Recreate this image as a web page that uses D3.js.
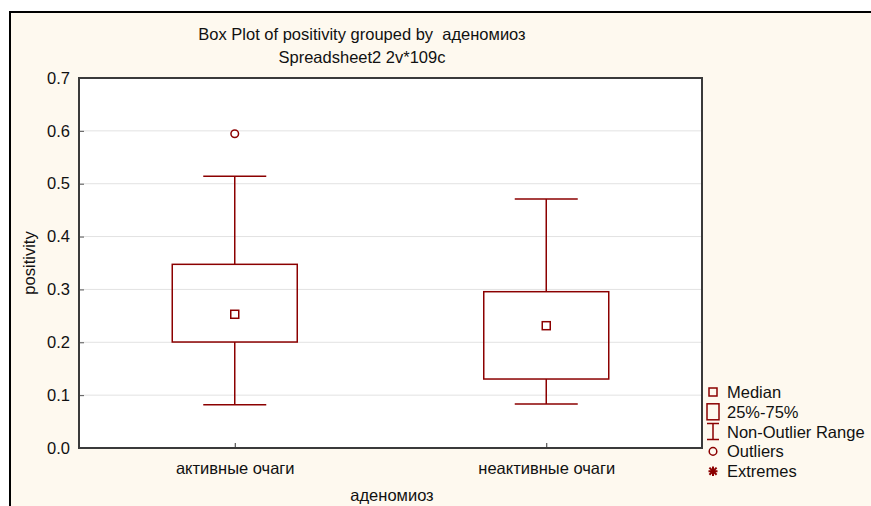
<!DOCTYPE html>
<html>
<head>
<meta charset="utf-8">
<script src="https://cdn.jsdelivr.net/npm/d3@7"></script>
<style>
  body { margin: 0; background: #fff; }
  text { font-family: "Liberation Sans", Arial, sans-serif; fill: #111; white-space: pre; }
</style>
</head>
<body>
<div class="item"></div>
<script>
var width = 871;
var height = 506;

// данные
var categories = ["активные очаги", "неактивные очаги"];
var q1 = [0.2005, 0.1305];
var median = [0.253, 0.2314];
var q3 = [0.3475, 0.2957];
var whiskerLow = [0.082, 0.0832];
var whiskerHigh = [0.514, 0.471];
var outliers = [[0.5946], []];
var yTicks = [0.0, 0.1, 0.2, 0.3, 0.4, 0.5, 0.6, 0.7];
var legendItems = ["Median", "25%-75%", "Non-Outlier Range", "Outliers", "Extremes"];

var boxes = categories.map(function (c, i) {
    return { cat: c, q1: q1[i], med: median[i], q3: q3[i], lo: whiskerLow[i], hi: whiskerHigh[i], out: outliers[i] };
});

var red = "#8b0000";
var fs = "16.5px";
var plot = { left: 79, top: 78, right: 702, bottom: 448 };

var svg = d3.select(".item")
    .append("svg")
    .attr("width", width)
    .attr("height", height);

// фон с рамкой
svg.append("rect")
    .attr("x", 10).attr("y", 12)
    .attr("width", width + 10).attr("height", height + 10)
    .attr("fill", "#fef9ef")
    .attr("stroke", "#000")
    .attr("stroke-width", 2);

var x = d3.scalePoint()
    .domain(categories)
    .range([plot.left, plot.right])
    .padding(0.5);

var y = d3.scaleLinear()
    .domain([0, 0.7])
    .range([plot.bottom, plot.top]);

// область графика
svg.append("rect")
    .attr("x", plot.left).attr("y", plot.top)
    .attr("width", plot.right - plot.left)
    .attr("height", plot.bottom - plot.top)
    .attr("fill", "#fff");

// сетка
svg.selectAll(".grid")
    .data(yTicks.slice(1, -1))
    .enter().append("line")
    .attr("x1", plot.left).attr("x2", plot.right)
    .attr("y1", function (d) { return y(d); })
    .attr("y2", function (d) { return y(d); })
    .attr("stroke", "#e2e2e2")
    .attr("stroke-width", 1);

// оси
var yAxis = d3.axisLeft(y)
    .tickValues(yTicks)
    .tickFormat(d3.format(".1f"))
    .tickSize(-5)
    .tickPadding(9);

svg.append("g")
    .attr("transform", "translate(" + plot.left + ",0)")
    .call(yAxis)
    .call(function (g) {
        g.select(".domain").remove();
        g.selectAll("line").attr("stroke", "#555");
        g.selectAll("text")
            .style("font-size", fs)
            .style("font-family", "Liberation Sans, Arial, sans-serif")
            .attr("fill", "#111");
    });

var xAxis = d3.axisBottom(x)
    .tickSize(-5)
    .tickPadding(14);

svg.append("g")
    .attr("transform", "translate(0," + plot.bottom + ")")
    .call(xAxis)
    .call(function (g) {
        g.select(".domain").remove();
        g.selectAll("line").attr("stroke", "#333");
        g.selectAll("text")
            .style("font-size", fs)
            .style("font-family", "Liberation Sans, Arial, sans-serif")
            .attr("fill", "#111");
    });

// рамка графика
svg.append("rect")
    .attr("x", plot.left).attr("y", plot.top)
    .attr("width", plot.right - plot.left)
    .attr("height", plot.bottom - plot.top)
    .attr("fill", "none")
    .attr("stroke", "#3a3a3a")
    .attr("stroke-width", 2);

// ящики
var boxW = 125, capW = 63;
var g = svg.selectAll(".box")
    .data(boxes)
    .enter().append("g")
    .attr("transform", function (d) { return "translate(" + x(d.cat) + ",0)"; });

g.append("line")
    .attr("x1", 0).attr("x2", 0)
    .attr("y1", function (d) { return y(d.hi); })
    .attr("y2", function (d) { return y(d.q3); })
    .attr("stroke", red).attr("stroke-width", 1.5);
g.append("line")
    .attr("x1", 0).attr("x2", 0)
    .attr("y1", function (d) { return y(d.q1); })
    .attr("y2", function (d) { return y(d.lo); })
    .attr("stroke", red).attr("stroke-width", 1.5);
g.append("line")
    .attr("x1", -capW / 2).attr("x2", capW / 2)
    .attr("y1", function (d) { return y(d.hi); })
    .attr("y2", function (d) { return y(d.hi); })
    .attr("stroke", red).attr("stroke-width", 1.5);
g.append("line")
    .attr("x1", -capW / 2).attr("x2", capW / 2)
    .attr("y1", function (d) { return y(d.lo); })
    .attr("y2", function (d) { return y(d.lo); })
    .attr("stroke", red).attr("stroke-width", 1.5);
g.append("rect")
    .attr("x", -boxW / 2)
    .attr("y", function (d) { return y(d.q3); })
    .attr("width", boxW)
    .attr("height", function (d) { return y(d.q1) - y(d.q3); })
    .attr("fill", "none")
    .attr("stroke", red).attr("stroke-width", 1.5);
g.append("rect")
    .attr("x", -4)
    .attr("y", function (d) { return y(d.med) - 4; })
    .attr("width", 8).attr("height", 8)
    .attr("fill", "#fff")
    .attr("stroke", red).attr("stroke-width", 1.5);
g.selectAll(".out")
    .data(function (d) { return d.out; })
    .enter().append("circle")
    .attr("cx", 0)
    .attr("cy", function (d) { return y(d); })
    .attr("r", 3.8)
    .attr("fill", "#fff")
    .attr("stroke", red).attr("stroke-width", 1.5);

// заголовки
svg.append("text")
    .attr("x", 362).attr("y", 40)
    .attr("text-anchor", "middle")
    .style("font-size", fs)
    .text("Box Plot of positivity grouped by  аденомиоз");
svg.append("text")
    .attr("x", 362).attr("y", 63)
    .attr("text-anchor", "middle")
    .style("font-size", fs)
    .text("Spreadsheet2 2v*109c");
svg.append("text")
    .attr("x", 392).attr("y", 501)
    .attr("text-anchor", "middle")
    .style("font-size", fs)
    .text("аденомиоз");
svg.append("text")
    .attr("transform", "translate(35," + ((plot.top + plot.bottom) / 2) + ") rotate(-90)")
    .attr("text-anchor", "middle")
    .style("font-size", fs)
    .text("positivity");

// легенда
var leg = svg.append("g").attr("transform", "translate(713,392)");
var li = leg.selectAll(".li")
    .data(legendItems)
    .enter().append("g")
    .attr("transform", function (d, i) { return "translate(0," + (i * 19.8) + ")"; });
li.append("text")
    .attr("x", 14).attr("y", 6)
    .style("font-size", fs)
    .text(function (d) { return d; });

leg.append("rect").attr("x", -4).attr("y", -4).attr("width", 8).attr("height", 8)
    .attr("fill", "none").attr("stroke", red).attr("stroke-width", 1.5);
leg.append("rect").attr("x", -6).attr("y", 19.8 - 8).attr("width", 12).attr("height", 16)
    .attr("fill", "none").attr("stroke", red).attr("stroke-width", 1.5);
leg.append("path")
    .attr("d", "M-6," + (39.6 - 8) + "H6M0," + (39.6 - 8) + "V" + (39.6 + 8) + "M-6," + (39.6 + 8) + "H6")
    .attr("fill", "none").attr("stroke", red).attr("stroke-width", 1.5);
leg.append("circle").attr("cx", 0).attr("cy", 59.4).attr("r", 3.8)
    .attr("fill", "none").attr("stroke", red).attr("stroke-width", 1.5);
leg.append("path")
    .attr("d", "M0,74.4V84.0M-4.5,79.2H4.5M-3.6,75.6L3.6,82.8M3.6,75.6L-3.6,82.8")
    .attr("fill", "none").attr("stroke", red).attr("stroke-width", 2);
</script>
</body>
</html>
